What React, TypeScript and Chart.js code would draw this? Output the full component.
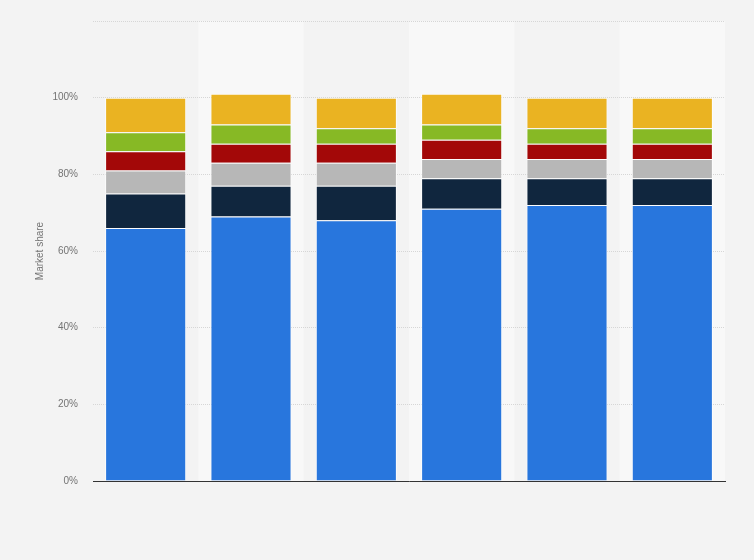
import { Chart, registerables } from "chart.js";
import { useEffect, useRef } from "react";

Chart.register(...registerables);

// Data (market share in %, per column)
const categories = ["1", "2", "3", "4", "5", "6"];
const seriesNames = ["Series 1", "Series 2", "Series 3", "Series 4", "Series 5", "Series 6"];
const series1 = [66, 69, 68, 71, 72, 72];
const series2 = [9, 8, 9, 8, 7, 7];
const series3 = [6, 6, 6, 5, 5, 5];
const series4 = [5, 5, 5, 5, 4, 4];
const series5 = [5, 5, 4, 4, 4, 4];
const series6 = [9, 8, 8, 8, 8, 8];
const yTicks = [0, 20, 40, 60, 80, 100, 120];

const colors = ["#2876dd", "#10263e", "#b7b7b7", "#a30808", "#87b925", "#eab322"];

// fills the page background and the lighter every-other column bands
const bandsPlugin = {
    id: "bands",
    beforeDraw(chart: Chart) {
        const { ctx, chartArea, scales } = chart;
        ctx.save();
        ctx.fillStyle = "#f3f3f3";
        ctx.fillRect(0, 0, chart.width, chart.height);
        const x = scales.x;
        const step = (chartArea.right - chartArea.left) / categories.length;
        ctx.fillStyle = "#f8f8f8";
        categories.forEach((_, i) => {
            if (i % 2 === 1) {
                const cx = x.getPixelForValue(i);
                ctx.fillRect(cx - step / 2, chartArea.top, step, chartArea.bottom - chartArea.top);
            }
        });
        ctx.restore();
    },
};

export default function App() {
    const canvasRef = useRef<HTMLCanvasElement | null>(null);
    const chartRef = useRef<Chart | null>(null);

    useEffect(() => {
        const ctx = canvasRef.current?.getContext("2d");
        if (chartRef.current) {
            chartRef.current.destroy();
        }
        const values = [series1, series2, series3, series4, series5, series6];

        chartRef.current = new Chart(ctx!, {
            type: "bar",
            data: {
                labels: categories,
                datasets: values.map((data, i) => ({
                    label: seriesNames[i],
                    data,
                    backgroundColor: colors[i],
                    borderColor: "rgba(255,255,255,0.7)",
                    borderWidth: 1,
                    borderSkipped: "start",
                    categoryPercentage: 1,
                    barPercentage: 0.77,
                })),
            },
            options: {
                responsive: false,
                animation: false,
                layout: { padding: { top: 20, right: 29, bottom: 79, left: 0 } },
                plugins: {
                    legend: { display: false },
                    tooltip: { enabled: false },
                },
                scales: {
                    x: {
                        stacked: true,
                        grid: { display: false, drawTicks: false },
                        ticks: { display: false },
                        border: { display: true, color: "#333333", width: 1 },
                        afterFit(scale: any) {
                            scale.height = 0;
                        },
                    },
                    y: {
                        stacked: true,
                        min: 0,
                        max: 120,
                        afterBuildTicks(scale: any) {
                            scale.ticks = yTicks.map((v) => ({ value: v }));
                        },
                        grid: { color: "#d6d6d6", lineWidth: 1, drawTicks: false },
                        border: { display: false, dash: [1, 1] },
                        ticks: {
                            padding: 15,
                            color: "#737373",
                            font: { family: "Liberation Sans, Arial, sans-serif", size: 10 },
                            callback: (v: any) => (v === 120 ? "" : v + "%"),
                        },
                        title: {
                            display: true,
                            text: "Market share",
                            color: "#737373",
                            font: { family: "Liberation Sans, Arial, sans-serif", size: 10 },
                            padding: { top: 34, bottom: 0 },
                        },
                        afterFit(scale: any) {
                            scale.width = 93;
                        },
                    },
                },
            },
            plugins: [bandsPlugin],
        });

        return () => {
            if (chartRef.current) {
                chartRef.current.destroy();
                chartRef.current = null;
            }
        };
    }, []);

    return (
        <div
            style={{
                position: "fixed",
                left: 0,
                top: 0,
                width: 754,
                height: 560,
                background: "#f3f3f3",
            }}
        >
            <canvas ref={canvasRef} width={754} height={560} style={{ width: 754, height: 560 }} />
        </div>
    );
}
